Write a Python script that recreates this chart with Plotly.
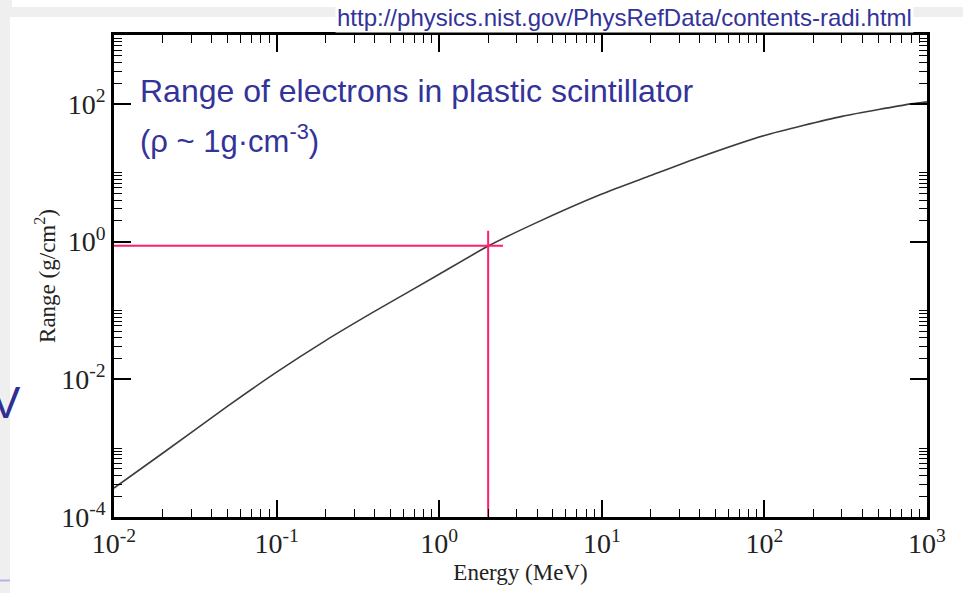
import plotly.graph_objects as go

# ---- data ----
energy_mev = [0.01, 0.02, 0.05, 0.1, 0.2, 0.4, 1.0, 2.0, 4.0, 10, 20, 40, 100, 300, 800, 1000]
range_gcm2 = [2.63e-4, 8.5e-4, 4.07e-3, 0.0127, 0.0365, 0.0967, 0.335, 0.86, 1.9, 4.9, 9.1, 16.8, 34.7, 65.8, 100, 107]

# marker lines (red): horizontal at ~1 g/cm2, vertical at ~2 MeV
hline_x = [0.01, 2.47]
hline_y = [0.87, 0.87]
vline_x = [2.0, 2.0]
vline_y = [1e-4, 1.44]

x_major = [1e-2, 1e-1, 1e0, 1e1, 1e2, 1e3]
x_major_text = ["10<sup>-2</sup>", "10<sup>-1</sup>", "10<sup>0</sup>", "10<sup>1</sup>", "10<sup>2</sup>", "10<sup>3</sup>"]
y_major = [1e-4, 1e-2, 1e0, 1e2]
y_major_text = ["10<sup>-4</sup>", "10<sup>-2</sup>", "10<sup>0</sup>", "10<sup>2</sup>"]
x_minor = [k * 10.0 ** d for d in range(-2, 3) for k in range(2, 10)]
y_minor = [k * 10.0 ** n for n in (-4, -2, 0, 2) for k in range(2, 11)]

W, H = 963, 593
L, R, T, B = 114, 927, 35, 517


def px(xp):
    return (xp - L) / (R - L)


def py(yp):
    return (B - yp) / (B - T)


fig = go.Figure()
fig.add_trace(go.Scatter(x=energy_mev, y=range_gcm2, mode="lines",
                         line=dict(color="#3c3c3c", width=1.6, shape="spline", smoothing=0.6),
                         showlegend=False, hoverinfo="skip"))
fig.add_trace(go.Scatter(x=hline_x, y=hline_y, mode="lines",
                         line=dict(color="#ff1f6a", width=2), showlegend=False, cliponaxis=False))
fig.add_trace(go.Scatter(x=vline_x, y=vline_y, mode="lines",
                         line=dict(color="#ff1f6a", width=2), showlegend=False, cliponaxis=False))

serif = "Liberation Serif, Times New Roman, serif"
sans = "Liberation Sans, Arial, sans-serif"
blue = "#333399"

axis_common = dict(showline=True, linewidth=2.5, linecolor="black", mirror="allticks",
                   ticks="inside", tickcolor="black", tickwidth=1.5, ticklen=17,
                   showgrid=False, zeroline=False,
                   tickfont=dict(family=serif, size=28, color="#222"))

fig.update_xaxes(type="log", range=[-2, 3], tickmode="array", tickvals=x_major, ticktext=x_major_text,
                 minor=dict(tickmode="array", tickvals=x_minor, ticks="inside", ticklen=8,
                            tickwidth=1.2, tickcolor="black"),
                 title=dict(text="Energy (MeV)", font=dict(family=serif, size=23, color="#222"), standoff=6),
                 **axis_common)
fig.update_yaxes(type="log", range=[-4, 3], tickmode="array", tickvals=y_major, ticktext=y_major_text,
                 minor=dict(tickmode="array", tickvals=y_minor, ticks="inside", ticklen=8,
                            tickwidth=1.2, tickcolor="black"),
                 title=dict(text="Range (g/cm<sup>2</sup>)", font=dict(family=serif, size=23, color="#222"), standoff=0),
                 **axis_common)

shapes = [
    # white slide panel
    dict(type="rect", xref="paper", yref="paper", x0=px(10), x1=px(W + 5), y0=py(H + 5), y1=py(17),
         fillcolor="white", line=dict(width=0), layer="below"),
    # top white strip
    dict(type="rect", xref="paper", yref="paper", x0=px(12), x1=px(W + 5), y0=py(7), y1=py(-5),
         fillcolor="white", line=dict(width=0), layer="below"),
    # lavender line bottom-left
    dict(type="line", xref="paper", yref="paper", x0=px(0), x1=px(10), y0=py(580.5), y1=py(580.5),
         line=dict(color="#b4b4ec", width=2), layer="below"),
]

annotations = [
    dict(text="Range of electrons in plastic scintillator", x=px(138), y=py(91), xref="paper", yref="paper",
         xanchor="left", yanchor="middle", showarrow=False, font=dict(family=sans, size=32, color=blue)),
    dict(text="(ρ ~ 1g·cm<sup>-3</sup>)", x=px(138), y=py(139), xref="paper", yref="paper",
         xanchor="left", yanchor="middle", showarrow=False, font=dict(family=sans, size=31, color=blue)),
    dict(text="http://physics.nist.gov/PhysRefData/contents-radi.html", x=px(914), y=py(18), xref="paper",
         yref="paper", xanchor="right", yanchor="middle", showarrow=False, bgcolor="white",
         font=dict(family=sans, size=24, color=blue)),
    dict(text="V", x=px(-11), y=py(402), xref="paper", yref="paper", xanchor="left", yanchor="middle",
         showarrow=False, font=dict(family=sans, size=44, color="#2e2e96")),
]

fig.update_layout(width=W, height=H, margin=dict(l=L, r=W - R, t=T, b=H - B, pad=0),
                  paper_bgcolor="#efefef", plot_bgcolor="white",
                  shapes=shapes, annotations=annotations, showlegend=False)

fig.write_html("out.html")
